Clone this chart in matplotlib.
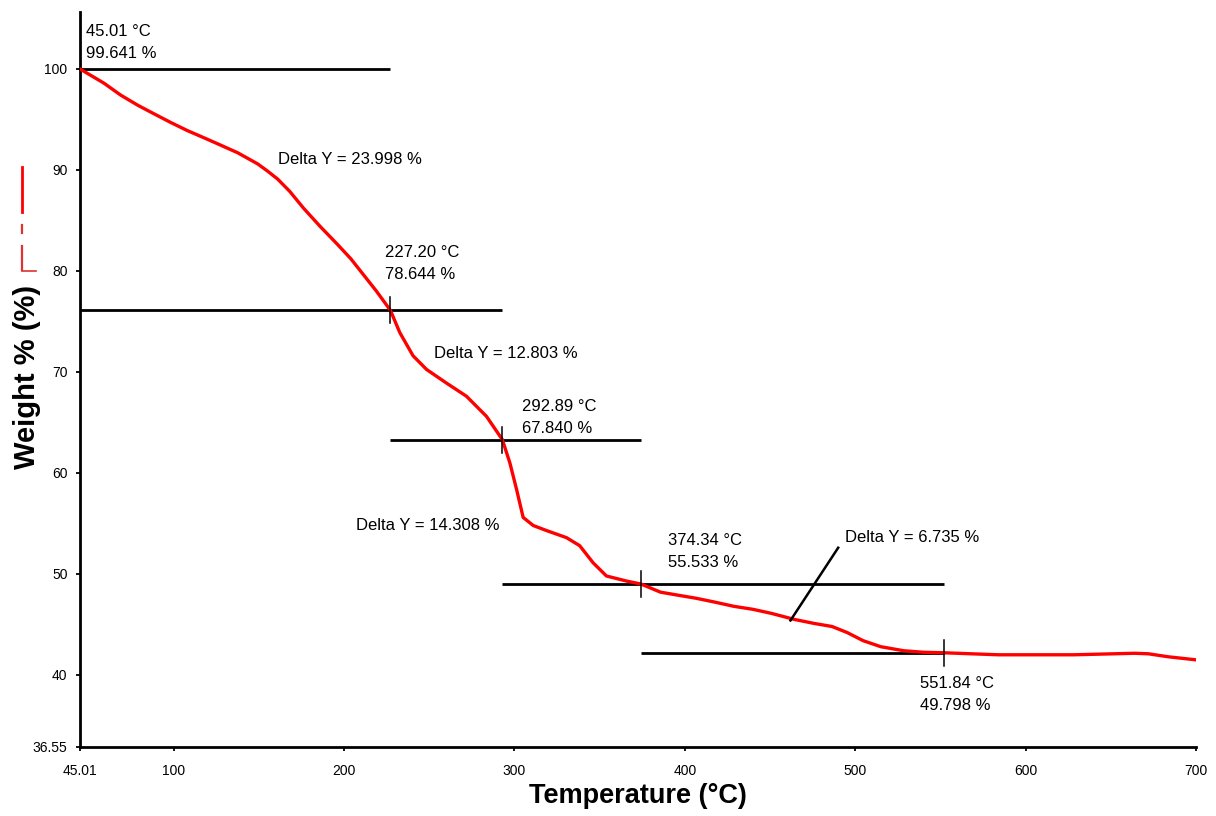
import matplotlib
matplotlib.use("Agg")
import matplotlib.pyplot as plt
from matplotlib.lines import Line2D

plt.rcParams['font.family'] = ['Liberation Sans', 'DejaVu Sans']

# ---- data ----
temp = [45.01, 52, 59, 69, 79, 88, 98.3, 108, 117.6, 127, 137.6, 149.3, 155, 161, 168,
        176.3, 186, 196.3, 204, 211.5, 219, 227.2,
        232.7, 240.5, 248.4, 260.1, 271.8, 283.6, 292.89,
        297.3, 301.2, 305.1, 311, 318.8, 330.5, 338.3, 346.2, 354, 365.8, 374.34,
        385.7, 396, 406.5, 418, 428.7, 440, 450.8, 464.3, 476, 486.4, 495.3, 504.6, 515,
        528.5, 540, 551.84, 584, 628.3, 663.9, 672, 683.8, 700]
weight = [100.0, 99.3, 98.6, 97.4, 96.4, 95.6, 94.7, 93.9, 93.2, 92.5, 91.7, 90.6, 89.9,
          89.1, 87.9, 86.2, 84.4, 82.6, 81.2, 79.6, 78.0, 76.1,
          73.9, 71.6, 70.25, 68.9, 67.6, 65.6, 63.3,
          61.0, 58.4, 55.6, 54.8, 54.3, 53.6, 52.8, 51.1, 49.8, 49.3, 49.0,
          48.2, 47.9, 47.6, 47.2, 46.8, 46.5, 46.1, 45.5, 45.1, 44.8, 44.2, 43.4, 42.8,
          42.4, 42.25, 42.2, 42.0, 42.0, 42.15, 42.1, 41.8, 41.5]

# step boundaries (onset temperatures) and their baseline levels
onset_temp = [45.01, 227.2, 292.89, 374.34, 551.84]
onset_level = [100.0, 76.1, 63.3, 49.0, 42.2]
onset_labels = ["45.01 °C\n99.641 %", "227.20 °C\n78.644 %", "292.89 °C\n67.840 %",
                "374.34 °C\n55.533 %", "551.84 °C\n49.798 %"]
delta_labels = ["Delta Y = 23.998 %", "Delta Y = 12.803 %",
                "Delta Y = 14.308 %", "Delta Y = 6.735 %"]

xticks = [45.01, 100, 200, 300, 400, 500, 600, 700]
xtick_labels = ["45.01", "100", "200", "300", "400", "500", "600", "700"]
yticks = [32.87, 40, 50, 60, 70, 80, 90, 100]
ytick_labels = ["36.55", "40", "50", "60", "70", "80", "90", "100"]

# ---- figure ----
fig = plt.figure(figsize=(12.16, 8.16), dpi=100)
ax = fig.add_axes([80/1216, 1-747/816, (1196-80)/1216, (747-12)/816])
ax.set_xlim(45.01, 700)
ax.set_ylim(32.87, 105.64)

for s in ['top', 'right']:
    ax.spines[s].set_visible(False)
for s in ['left', 'bottom']:
    ax.spines[s].set_linewidth(2.0)
    ax.spines[s].set_color('black')

ax.set_xticks(xticks)
ax.set_xticklabels(xtick_labels)
ax.set_yticks(yticks)
ax.set_yticklabels(ytick_labels)
ax.tick_params(axis='both', direction='out', length=3, width=1.3, labelsize=10,
               colors='black')
ax.tick_params(axis='x', pad=9)
ax.tick_params(axis='y', pad=6)

# horizontal baseline lines: each level spans from previous onset to next onset
line_spans = [(onset_temp[0], onset_temp[1]),
              (onset_temp[0], onset_temp[2]),
              (onset_temp[1], onset_temp[3]),
              (onset_temp[2], onset_temp[4]),
              (onset_temp[3], onset_temp[4])]
for lvl, (x0, x1) in zip(onset_level, line_spans):
    ax.plot([x0, x1], [lvl, lvl], color='black', lw=2.0, solid_capstyle='butt', zorder=3)

# red TGA curve
ax.plot(temp, weight, color='#ff0000', lw=2.4, zorder=4, solid_joinstyle='round')

# small vertical markers at onsets
for t, lvl in zip(onset_temp[1:], onset_level[1:]):
    ax.plot([t, t], [lvl - 1.3, lvl + 1.3], color='black', lw=1.1, zorder=5)

# onset annotations
onset_text_pos = [(48.5, 102.6), (224.0, 80.75), (304.3, 65.5), (390.0, 52.2), (537.8, 38.1)]
for (tx, ty), lab in zip(onset_text_pos, onset_labels):
    ax.text(tx, ty, lab, fontsize=12, ha='left', va='center', linespacing=1.6, zorder=6)

delta_pos = [(161.2, 91.0), (252.7, 71.8), (207.0, 54.8), (493.8, 53.6)]
for (tx, ty), lab in zip(delta_pos, delta_labels):
    ax.text(tx, ty, lab, fontsize=12, ha='left', va='center', zorder=6)

# leader line for the last delta
ax.plot([490, 462], [52.6, 45.4], color='black', lw=1.8, zorder=6)

ax.set_xlabel("Temperature (°C)", fontsize=19.5, fontweight='bold')
ax.xaxis.set_label_coords(0.5, -0.049)
ax.set_ylabel("Weight % (%)", fontsize=21, fontweight='bold')
ax.yaxis.set_label_coords(-0.035, 0.503)

# legend-like red marker near y label
fx = 22/1216
def fy(p):
    return 1 - p/816
fig.add_artist(Line2D([fx, fx], [fy(167), fy(212)], color='#ff0000', lw=2.0))
fig.add_artist(Line2D([fx, fx], [fy(225), fy(233)], color='#e03030', lw=1.6))
fig.add_artist(Line2D([fx, fx], [fy(246), fy(270)], color='#e03030', lw=1.6))
fig.add_artist(Line2D([fx, 36/1216], [fy(271), fy(271)], color='#e03030', lw=1.2))

fig.savefig("out.png", dpi=100)
